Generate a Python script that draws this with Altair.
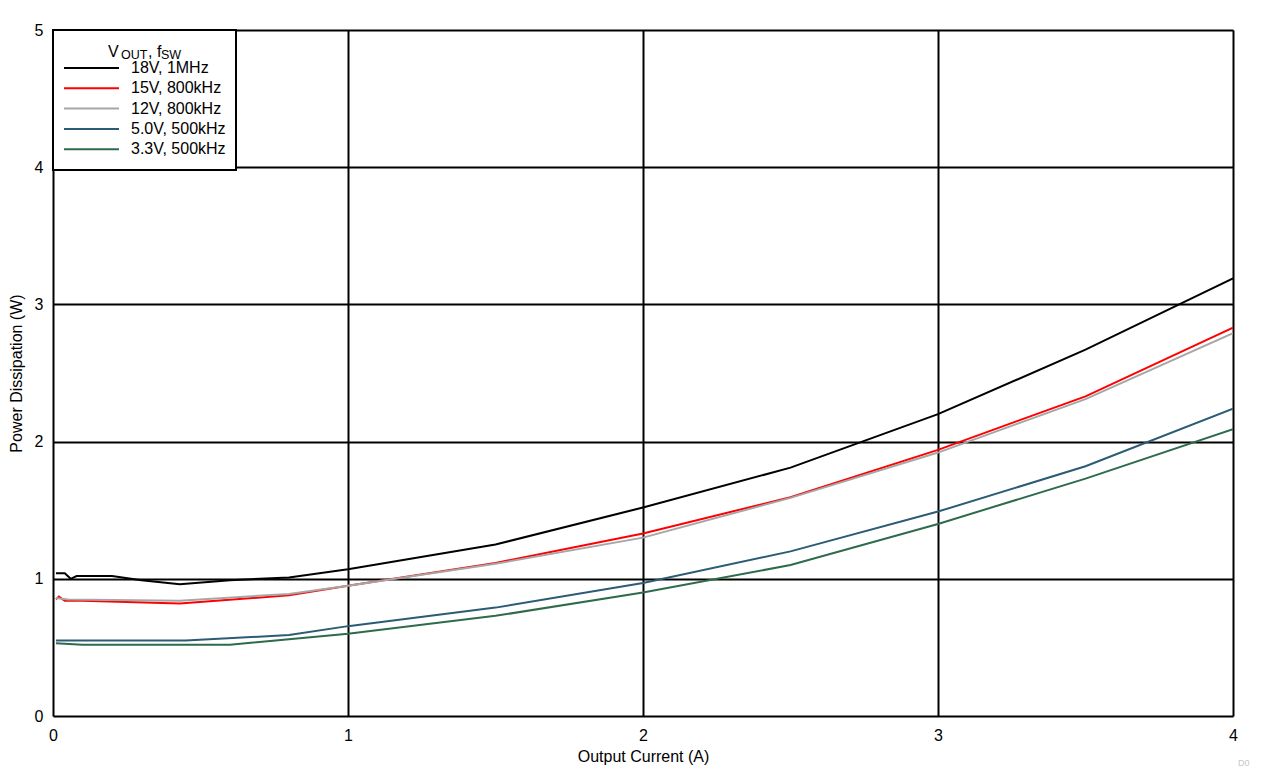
import altair as alt
import pandas as pd

series = ["18V, 1MHz", "15V, 800kHz", "12V, 800kHz", "5.0V, 500kHz", "3.3V, 500kHz"]
colors = ["#000000", "#FF0000", "#A6A6A6", "#2B5B75", "#2E6B4C"]

x_18v = [0.01, 0.04, 0.06, 0.08, 0.2, 0.3, 0.43, 0.6, 0.8, 1.0, 1.5, 2.0, 2.5, 3.0, 3.5, 4.0]
y_18v = [1.04, 1.04, 1.00, 1.02, 1.02, 0.99, 0.96, 0.99, 1.01, 1.07, 1.25, 1.52, 1.81, 2.20, 2.67, 3.19]

x_15v = [0.01, 0.02, 0.04, 0.1, 0.43, 0.8, 1.0, 1.5, 2.0, 2.5, 3.0, 3.5, 4.0]
y_15v = [0.85, 0.87, 0.84, 0.84, 0.82, 0.88, 0.95, 1.115, 1.33, 1.595, 1.94, 2.33, 2.83]

x_12v = [0.01, 0.05, 0.43, 0.8, 1.0, 1.5, 2.0, 2.5, 3.0, 3.5, 4.0]
y_12v = [0.86, 0.85, 0.84, 0.89, 0.95, 1.11, 1.30, 1.59, 1.92, 2.31, 2.79]

x_5v = [0.01, 0.45, 0.8, 1.0, 1.5, 2.0, 2.5, 3.0, 3.5, 4.0]
y_5v = [0.55, 0.55, 0.59, 0.655, 0.79, 0.97, 1.20, 1.49, 1.82, 2.24]

x_3v3 = [0.01, 0.1, 0.6, 0.8, 1.0, 1.5, 2.0, 2.5, 3.0, 3.5, 4.0]
y_3v3 = [0.53, 0.52, 0.52, 0.56, 0.60, 0.73, 0.90, 1.10, 1.40, 1.73, 2.09]

x_ticks = [0, 1, 2, 3, 4]
y_ticks = [0, 1, 2, 3, 4, 5]

rows = []
for name, xs, ys in zip(series, [x_18v, x_15v, x_12v, x_5v, x_3v3],
                        [y_18v, y_15v, y_12v, y_5v, y_3v3]):
    for i, (xv, yv) in enumerate(zip(xs, ys)):
        rows.append({"series": name, "current": xv, "power": yv, "idx": i})
df = pd.DataFrame(rows)

FONT = "Liberation Sans"

lines = alt.Chart(df).mark_line(strokeWidth=2, clip=True).encode(
    x=alt.X("current:Q",
            scale=alt.Scale(domain=[0, 4], nice=False, zero=True),
            axis=alt.Axis(values=x_ticks, format="d", title="Output Current (A)",
                          grid=True, gridColor="#000000", gridWidth=2, gridOpacity=1,
                          ticks=False, domain=False, labelPadding=11, labelFlush=False,
                          labelFontSize=16, titleFontSize=16, titlePadding=5,
                          labelColor="#000000", titleColor="#000000",
                          labelFont=FONT, titleFont=FONT, titleFontWeight="normal")),
    y=alt.Y("power:Q",
            scale=alt.Scale(domain=[0, 5], nice=False, zero=True),
            axis=alt.Axis(values=y_ticks, format="d", title="Power Dissipation (W)",
                          grid=True, gridColor="#000000", gridWidth=2, gridOpacity=1,
                          ticks=False, domain=False, labelPadding=10, labelFlush=False,
                          labelFontSize=16, titleFontSize=16, titlePadding=10,
                          labelColor="#000000", titleColor="#000000",
                          labelFont=FONT, titleFont=FONT, titleFontWeight="normal")),
    color=alt.Color("series:N",
                    scale=alt.Scale(domain=series, range=colors),
                    sort=series,
                    legend=alt.Legend(
                        title=None,
                        orient="none", legendX=0, legendY=20,
                        padding=10, symbolType="stroke", symbolSize=3025,
                        symbolStrokeWidth=2, clipHeight=16, rowPadding=4.3,
                        labelFontSize=16, labelFont=FONT, labelColor="#000000",
                        labelOffset=11)),
    order="idx:Q",
)

one = pd.DataFrame({"k": [0]})

def txt(t, x, y, size, color="#000000"):
    return alt.Chart(one).mark_text(text=t, align="left", baseline="alphabetic",
                                    fontSize=size, font=FONT, color=color).encode(
        x=alt.value(x), y=alt.value(y))

box = alt.Chart(one).mark_rect(fill="#FFFFFF", stroke="#000000", strokeWidth=2).encode(
    x=alt.value(0), x2=alt.value(183), y=alt.value(0), y2=alt.value(140))

title_parts = (txt("V", 55, 27, 16) + txt("OUT", 68, 28.5, 12.5)
               + txt(", f", 95, 27, 16) + txt("SW", 108, 28.5, 12.5)
               + txt("D0", 1185, 736, 9, "#C8C8C8"))

chart = alt.layer(lines, box, title_parts).properties(
    width=1180, height=686,
    autosize=alt.AutoSizeParams(type="none"),
    padding={"left": 45, "top": 22, "right": 21, "bottom": 52},
).configure_view(stroke="#000000", strokeWidth=2).configure(background="#FFFFFF")

chart.save("out.html", embed_options={"renderer": "svg", "actions": False})
